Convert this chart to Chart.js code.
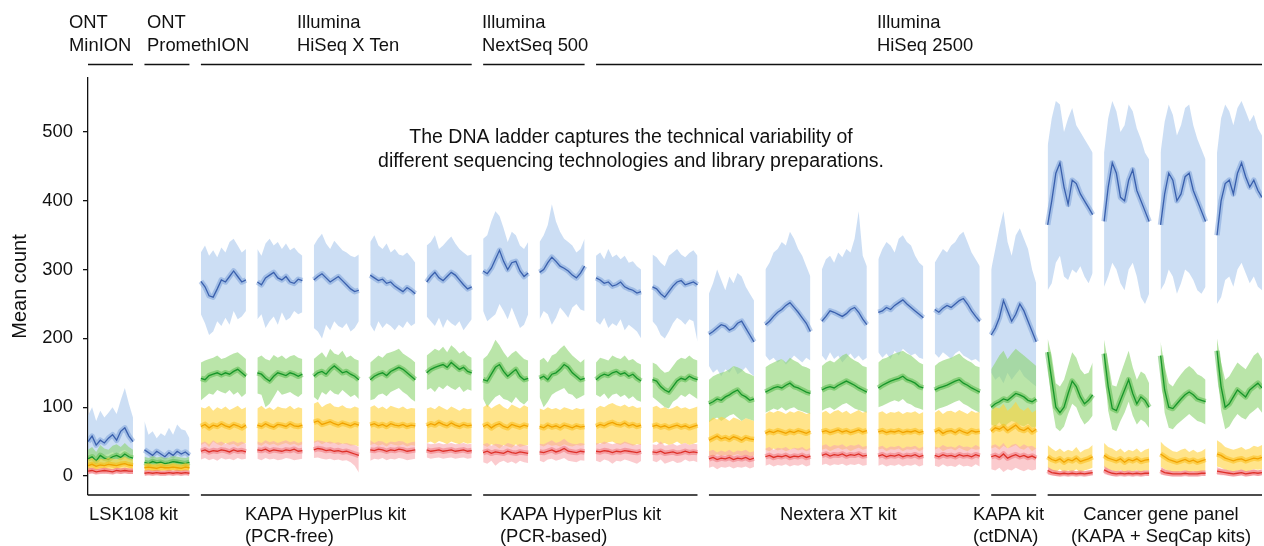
<!DOCTYPE html>
<html>
<head>
<meta charset="utf-8">
<script src="https://cdn.jsdelivr.net/npm/chart.js@4.4.1/dist/chart.umd.min.js"></script>
<style>
  html, body { margin: 0; padding: 0; background: #fff; }
  #wrap { width: 1264px; height: 546px; position: relative; }
</style>
</head>
<body>
<div id="wrap"><canvas id="ladderChart"></canvas></div>
<script>
// one sub-array per panel (21 panels, left to right), 12 readings across each panel
const blueMid = [
  [50, 58, 45, 52, 48, 55, 60, 52, 65, 70, 58, 50],
  [38, 34, 30, 36, 32, 28, 34, 30, 36, 32, 35, 30],
  [283, 275, 262, 260, 272, 285, 282, 290, 298, 290, 282, 285],
  [282, 278, 288, 292, 296, 288, 285, 290, 282, 280, 286, 284],
  [285, 290, 294, 288, 282, 286, 290, 284, 278, 272, 268, 270],
  [292, 288, 284, 286, 280, 282, 276, 272, 268, 274, 270, 265],
  [282, 290, 296, 288, 284, 290, 296, 292, 285, 278, 272, 275],
  [298, 294, 302, 315, 328, 312, 300, 310, 312, 298, 290, 295],
  [296, 300, 310, 318, 312, 305, 302, 298, 292, 288, 295, 305],
  [288, 285, 280, 282, 276, 278, 282, 275, 272, 270, 266, 268],
  [275, 272, 265, 260, 268, 276, 282, 284, 278, 280, 282, 278],
  [206, 210, 215, 220, 218, 212, 215, 222, 225, 215, 205, 195],
  [220, 225, 232, 238, 242, 248, 252, 245, 238, 230, 222, 210],
  [225, 232, 240, 238, 235, 232, 236, 242, 245, 238, 228, 220],
  [238, 240, 245, 242, 248, 252, 256, 250, 245, 240, 235, 230],
  [242, 238, 244, 248, 245, 250, 255, 258, 250, 240, 232, 225],
  [205, 215, 230, 255, 240, 225, 235, 250, 240, 225, 210, 195],
  [365, 400, 440, 455, 420, 395, 430, 425, 410, 400, 390, 380],
  [370, 420, 455, 440, 405, 400, 430, 445, 415, 400, 385, 370],
  [365, 410, 440, 430, 400, 410, 435, 440, 415, 400, 385, 370],
  [350, 400, 425, 430, 410, 440, 455, 435, 420, 430, 415, 405]
];
const blueHigh = [
  [88, 100, 80, 95, 85, 92, 100, 90, 110, 128, 105, 85],
  [80, 60, 65, 55, 62, 58, 70, 60, 75, 68, 66, 55],
  [325, 335, 320, 328, 318, 332, 325, 340, 345, 335, 325, 330],
  [330, 320, 338, 345, 335, 340, 330, 338, 328, 332, 325, 320],
  [335, 345, 352, 338, 330, 342, 335, 328, 325, 320, 318, 322],
  [340, 350, 335, 330, 338, 325, 330, 322, 320, 325, 318, 310],
  [335, 340, 350, 330, 335, 342, 348, 338, 330, 325, 320, 322],
  [345, 350, 370, 385, 378, 360, 340, 355, 350, 335, 330, 340],
  [340, 350, 365, 395, 370, 355, 345, 340, 335, 325, 330, 345],
  [320, 325, 315, 330, 318, 322, 315, 320, 310, 312, 305, 300],
  [322, 318, 310, 305, 320, 325, 330, 322, 318, 324, 328, 320],
  [265, 280, 300, 285, 270, 290, 280, 295, 290, 275, 265, 255],
  [300, 310, 325, 330, 340, 335, 355, 345, 330, 320, 305, 290],
  [300, 315, 320, 310, 325, 318, 330, 325, 345, 385, 320, 305],
  [315, 330, 340, 335, 325, 345, 350, 340, 335, 320, 310, 305],
  [310, 320, 330, 325, 335, 340, 350, 355, 340, 325, 315, 305],
  [300, 330, 360, 385, 340, 320, 350, 360, 345, 330, 300, 280],
  [480, 520, 545, 540, 500, 520, 535, 510, 500, 490, 480, 470],
  [470, 520, 545, 530, 500, 510, 540, 530, 505, 490, 470, 460],
  [470, 515, 540, 525, 495, 510, 535, 540, 510, 490, 475, 460],
  [470, 520, 540, 530, 510, 535, 545, 530, 515, 525, 505, 495]
];
const blueLow = [
  [30, 32, 28, 33, 30, 32, 35, 30, 36, 38, 33, 30],
  [22, 20, 21, 22, 20, 21, 22, 20, 21, 22, 20, 21],
  [235, 222, 205, 210, 225, 218, 230, 220, 240, 228, 232, 240],
  [228, 235, 215, 225, 232, 220, 238, 226, 230, 240, 235, 238],
  [215, 210, 200, 220, 212, 225, 218, 215, 222, 210, 215, 225],
  [220, 210, 225, 215, 222, 218, 212, 220, 215, 225, 218, 222],
  [232, 225, 218, 230, 215, 228, 222, 218, 225, 212, 220, 228],
  [240, 225, 230, 235, 250, 240, 228, 245, 230, 215, 220, 235],
  [228, 240, 235, 220, 230, 245, 238, 230, 245, 250, 242, 240],
  [225, 220, 230, 215, 222, 218, 228, 212, 220, 215, 210, 200],
  [225, 218, 205, 200, 210, 222, 230, 226, 220, 228, 225, 195],
  [160, 150, 155, 145, 155, 150, 160, 148, 152, 158, 150, 145],
  [175, 168, 172, 165, 170, 162, 168, 175, 170, 165, 172, 168],
  [175, 168, 180, 170, 175, 165, 172, 178, 170, 175, 168, 172],
  [180, 172, 178, 170, 182, 175, 185, 180, 175, 178, 172, 170],
  [178, 172, 180, 175, 170, 178, 182, 175, 172, 168, 170, 165],
  [150, 140, 145, 135, 150, 140, 148, 155, 145, 140, 135, 130],
  [270, 280, 310, 320, 290, 285, 300, 295, 305, 290, 280, 295],
  [275, 290, 310, 300, 280, 270, 300, 310, 290, 260, 250, 265],
  [270, 280, 300, 290, 265, 280, 300, 295, 285, 270, 265, 275],
  [250, 260, 285, 290, 275, 300, 310, 295, 280, 290, 275, 270]
];

const greenMid = [
  [25, 28, 22, 30, 26, 24, 28, 30, 27, 32, 28, 26],
  [20, 18, 21, 19, 20, 18, 19, 21, 20, 19, 18, 20],
  [142, 140, 146, 148, 150, 147, 150, 148, 152, 155, 150, 145],
  [150, 148, 142, 138, 145, 150, 148, 146, 150, 148, 145, 148],
  [145, 150, 152, 148, 155, 160, 155, 150, 152, 148, 145, 140],
  [140, 145, 148, 150, 146, 152, 155, 158, 155, 150, 145, 140],
  [150, 155, 158, 160, 162, 158, 165, 160, 155, 158, 152, 150],
  [140, 138, 148, 158, 162, 152, 145, 150, 155, 145, 140, 142],
  [142, 145, 140, 148, 150, 155, 162, 158, 150, 145, 140, 142],
  [140, 145, 148, 146, 150, 152, 148, 150, 145, 148, 142, 138],
  [140, 138, 130, 125, 122, 130, 138, 142, 140, 145, 142, 140],
  [105, 108, 112, 110, 115, 118, 122, 125, 118, 115, 110, 112],
  [122, 125, 128, 130, 128, 132, 135, 130, 128, 125, 122, 120],
  [125, 128, 130, 128, 132, 135, 138, 135, 132, 128, 125, 122],
  [128, 132, 135, 138, 140, 142, 145, 140, 138, 135, 130, 128],
  [125, 128, 130, 132, 135, 138, 140, 135, 132, 128, 125, 122],
  [100, 105, 108, 112, 110, 115, 120, 118, 115, 110, 108, 112],
  [180, 140, 100, 92, 100, 120, 138, 130, 115, 105, 110, 118],
  [178, 130, 98, 95, 110, 125, 140, 120, 105, 115, 110, 100],
  [175, 125, 100, 98, 105, 112, 118, 122, 118, 112, 110, 108],
  [182, 130, 100, 105, 115, 125, 120, 115, 125, 130, 135, 128]
];
const greenHigh = [
  [38, 42, 35, 45, 40, 38, 44, 46, 42, 48, 42, 38],
  [28, 26, 29, 27, 28, 26, 27, 29, 28, 27, 26, 28],
  [165, 168, 170, 172, 175, 170, 172, 175, 178, 180, 175, 170],
  [172, 175, 170, 168, 176, 172, 175, 170, 174, 176, 172, 170],
  [170, 175, 180, 172, 185, 178, 176, 182, 172, 175, 170, 168],
  [165, 170, 175, 172, 178, 180, 182, 185, 178, 174, 170, 165],
  [175, 180, 185, 182, 188, 180, 190, 185, 178, 182, 175, 172],
  [170, 175, 185, 198, 190, 180, 172, 178, 182, 176, 170, 168],
  [168, 172, 165, 175, 178, 185, 190, 182, 175, 170, 165, 170],
  [165, 172, 170, 168, 175, 172, 170, 175, 168, 170, 165, 162],
  [165, 162, 155, 150, 152, 160, 168, 172, 170, 175, 170, 168],
  [140, 145, 148, 150, 152, 155, 160, 158, 155, 150, 148, 145],
  [158, 162, 165, 168, 170, 165, 172, 168, 165, 160, 158, 155],
  [160, 165, 168, 165, 170, 175, 178, 172, 168, 165, 160, 158],
  [165, 170, 172, 175, 178, 180, 182, 178, 175, 170, 165, 162],
  [160, 165, 168, 170, 172, 175, 178, 172, 168, 165, 160, 158],
  [155, 165, 175, 182, 170, 178, 185, 180, 175, 170, 165, 160],
  [200, 175, 135, 130, 140, 160, 180, 172, 155, 148, 150, 165],
  [198, 165, 132, 130, 148, 165, 182, 158, 140, 152, 148, 135],
  [195, 160, 135, 130, 140, 148, 155, 160, 155, 148, 145, 140],
  [200, 165, 140, 145, 155, 165, 160, 155, 165, 175, 180, 170]
];
const greenLow = [
  [15, 16, 14, 17, 15, 16, 17, 16, 15, 18, 16, 15],
  [12, 11, 12, 11, 12, 11, 12, 11, 12, 11, 12, 11],
  [110, 115, 120, 118, 125, 122, 120, 125, 118, 122, 115, 120],
  [120, 118, 100, 105, 115, 125, 118, 120, 122, 118, 115, 120],
  [115, 110, 122, 118, 125, 120, 118, 125, 120, 115, 118, 112],
  [110, 112, 118, 120, 116, 122, 125, 128, 122, 118, 112, 108],
  [125, 128, 122, 130, 126, 132, 128, 125, 130, 122, 126, 124],
  [112, 100, 108, 115, 118, 112, 110, 106, 115, 108, 104, 110],
  [115, 100, 108, 118, 122, 125, 128, 120, 118, 112, 115, 118],
  [118, 115, 120, 112, 118, 120, 115, 118, 112, 116, 110, 108],
  [115, 110, 105, 100, 98, 108, 112, 118, 115, 120, 116, 112],
  [78, 82, 85, 80, 84, 88, 90, 85, 80, 84, 82, 80],
  [92, 95, 98, 96, 100, 95, 98, 100, 96, 94, 92, 90],
  [95, 98, 100, 96, 100, 104, 106, 102, 98, 96, 94, 92],
  [100, 102, 105, 108, 110, 108, 112, 106, 104, 100, 98, 96],
  [95, 98, 100, 102, 105, 108, 110, 105, 102, 98, 95, 92],
  [75, 72, 78, 70, 76, 80, 78, 74, 72, 76, 70, 72],
  [160, 105, 70, 65, 72, 90, 105, 100, 85, 75, 80, 88],
  [158, 95, 68, 65, 80, 92, 108, 88, 75, 82, 78, 70],
  [155, 92, 70, 68, 75, 80, 85, 90, 85, 80, 78, 75],
  [160, 95, 68, 72, 82, 90, 85, 82, 90, 95, 100, 92]
];

const yellowMid = [
  [15, 17, 14, 16, 15, 17, 16, 15, 17, 18, 16, 15],
  [12, 13, 12, 11, 13, 12, 12, 13, 12, 11, 13, 12],
  [72, 75, 70, 74, 72, 76, 73, 71, 75, 73, 70, 74],
  [74, 72, 76, 73, 71, 75, 74, 72, 76, 73, 72, 74],
  [78, 80, 75, 77, 79, 76, 74, 77, 75, 73, 76, 74],
  [74, 76, 73, 75, 72, 76, 74, 73, 75, 72, 74, 73],
  [73, 76, 74, 78, 75, 73, 77, 74, 72, 75, 73, 74],
  [72, 75, 70, 74, 76, 72, 70, 75, 73, 71, 74, 72],
  [72, 70, 74, 71, 73, 70, 74, 72, 70, 73, 71, 72],
  [72, 75, 73, 76, 78, 75, 74, 77, 73, 75, 72, 74],
  [72, 74, 71, 73, 70, 72, 74, 71, 73, 70, 72, 74],
  [52, 55, 58, 54, 56, 53, 57, 55, 52, 56, 54, 53],
  [62, 65, 63, 66, 64, 62, 65, 63, 66, 64, 62, 65],
  [64, 66, 63, 65, 67, 64, 66, 63, 65, 67, 64, 66],
  [64, 66, 63, 65, 64, 66, 63, 65, 64, 66, 63, 65],
  [64, 67, 62, 65, 66, 63, 67, 64, 62, 66, 64, 65],
  [65, 70, 68, 72, 66, 70, 74, 68, 66, 70, 64, 68],
  [28, 24, 22, 25, 20, 24, 22, 26, 21, 23, 25, 28],
  [30, 26, 24, 22, 25, 20, 24, 22, 25, 21, 23, 24],
  [32, 28, 24, 22, 20, 22, 24, 21, 23, 20, 22, 24],
  [32, 30, 26, 24, 22, 24, 25, 22, 24, 26, 25, 27]
];
const yellowHigh = [
  [24, 26, 22, 25, 24, 27, 25, 24, 26, 28, 25, 24],
  [18, 19, 17, 18, 19, 17, 18, 19, 18, 17, 19, 18],
  [100, 98, 102, 95, 100, 97, 101, 96, 99, 102, 97, 100],
  [98, 102, 97, 100, 96, 101, 99, 98, 102, 97, 100, 98],
  [105, 108, 100, 104, 106, 101, 100, 103, 99, 98, 101, 99],
  [100, 103, 98, 101, 97, 102, 100, 98, 101, 97, 99, 98],
  [98, 100, 97, 102, 99, 96, 101, 98, 95, 99, 97, 98],
  [100, 104, 98, 102, 105, 100, 97, 104, 101, 98, 103, 100],
  [98, 96, 100, 97, 99, 96, 100, 98, 96, 99, 97, 98],
  [98, 102, 100, 104, 106, 103, 101, 104, 100, 102, 99, 100],
  [100, 102, 98, 100, 97, 99, 102, 98, 100, 97, 99, 101],
  [80, 85, 82, 86, 84, 80, 85, 83, 80, 84, 82, 80],
  [90, 94, 92, 95, 93, 90, 94, 92, 95, 93, 90, 92],
  [92, 95, 90, 94, 96, 92, 95, 90, 93, 96, 92, 94],
  [92, 94, 90, 93, 92, 94, 90, 93, 92, 94, 90, 93],
  [92, 96, 90, 94, 95, 92, 96, 93, 90, 95, 92, 93],
  [95, 100, 98, 105, 95, 100, 108, 98, 95, 100, 92, 96],
  [45, 40, 36, 40, 35, 38, 36, 42, 34, 38, 40, 45],
  [48, 42, 40, 36, 40, 34, 38, 36, 40, 34, 38, 40],
  [50, 44, 40, 36, 35, 38, 40, 35, 38, 34, 36, 40],
  [52, 48, 42, 40, 38, 40, 42, 38, 40, 44, 42, 45]
];
const yellowLow = [
  [8, 9, 8, 10, 9, 8, 9, 10, 9, 8, 9, 9],
  [7, 8, 7, 8, 7, 8, 7, 8, 7, 8, 7, 8],
  [45, 48, 42, 50, 46, 44, 48, 45, 47, 43, 46, 48],
  [46, 44, 48, 45, 47, 44, 46, 48, 45, 47, 44, 46],
  [48, 50, 46, 49, 47, 48, 45, 47, 46, 44, 45, 43],
  [45, 47, 44, 46, 43, 47, 45, 44, 46, 43, 45, 44],
  [48, 50, 47, 51, 49, 46, 50, 48, 46, 49, 47, 48],
  [45, 42, 46, 44, 40, 45, 43, 41, 46, 42, 44, 45],
  [45, 43, 46, 44, 45, 43, 46, 44, 43, 45, 44, 45],
  [45, 48, 46, 49, 50, 47, 45, 48, 46, 44, 46, 45],
  [48, 50, 46, 48, 45, 47, 50, 46, 48, 45, 47, 49],
  [30, 28, 32, 29, 31, 28, 30, 32, 29, 31, 28, 30],
  [38, 36, 40, 37, 39, 36, 38, 40, 37, 39, 36, 38],
  [38, 40, 36, 39, 41, 38, 40, 36, 39, 41, 38, 40],
  [38, 40, 36, 39, 38, 40, 36, 39, 38, 40, 36, 39],
  [38, 41, 36, 39, 40, 37, 41, 38, 36, 40, 38, 39],
  [40, 42, 38, 44, 40, 42, 45, 40, 38, 42, 36, 40],
  [12, 8, 6, 10, 5, 8, 6, 10, 5, 8, 10, 12],
  [12, 10, 8, 6, 9, 5, 8, 6, 9, 5, 8, 8],
  [14, 10, 8, 6, 5, 7, 8, 5, 7, 4, 6, 8],
  [14, 12, 9, 8, 6, 8, 9, 6, 8, 10, 9, 10]
];

const redMid = [
  [7, 8, 6, 7, 8, 7, 6, 8, 7, 8, 7, 7],
  [4, 5, 4, 5, 4, 4, 5, 4, 5, 4, 5, 4],
  [36, 38, 35, 37, 36, 38, 37, 35, 38, 36, 37, 35],
  [38, 37, 39, 36, 38, 37, 36, 38, 37, 39, 36, 37],
  [38, 40, 39, 37, 38, 36, 37, 35, 36, 34, 32, 30],
  [38, 37, 39, 38, 36, 38, 37, 39, 38, 36, 37, 38],
  [38, 36, 37, 38, 36, 37, 38, 36, 37, 38, 36, 37],
  [34, 36, 33, 35, 34, 33, 36, 34, 33, 35, 34, 33],
  [35, 34, 36, 38, 35, 37, 40, 36, 35, 34, 36, 35],
  [36, 35, 37, 36, 34, 36, 35, 37, 36, 35, 34, 36],
  [35, 34, 36, 33, 34, 35, 33, 34, 36, 34, 35, 34],
  [25, 27, 24, 26, 25, 27, 24, 26, 25, 27, 24, 26],
  [28, 30, 27, 29, 28, 30, 27, 29, 28, 30, 27, 29],
  [30, 32, 29, 31, 30, 32, 29, 31, 30, 32, 29, 30],
  [29, 31, 28, 30, 29, 31, 28, 30, 29, 31, 28, 30],
  [30, 28, 31, 29, 30, 28, 31, 29, 30, 28, 31, 29],
  [28, 30, 27, 32, 26, 29, 31, 28, 30, 27, 29, 26],
  [8, 5, 4, 3, 4, 3, 4, 3, 4, 3, 4, 5],
  [9, 6, 4, 3, 4, 3, 4, 3, 4, 3, 4, 4],
  [8, 5, 4, 3, 3, 3, 4, 3, 3, 3, 4, 4],
  [7, 6, 5, 4, 3, 4, 5, 3, 4, 5, 4, 5]
];
const redHigh = [
  [11, 12, 10, 11, 12, 11, 10, 12, 11, 12, 11, 11],
  [7, 8, 7, 8, 7, 7, 8, 7, 8, 7, 8, 7],
  [48, 50, 46, 52, 48, 50, 47, 49, 51, 48, 50, 47],
  [50, 48, 52, 49, 51, 48, 50, 52, 49, 51, 48, 50],
  [50, 52, 51, 49, 50, 48, 49, 47, 48, 46, 45, 42],
  [52, 48, 51, 50, 47, 50, 49, 51, 50, 47, 49, 50],
  [48, 46, 47, 48, 46, 47, 48, 46, 47, 48, 46, 47],
  [46, 48, 44, 47, 46, 44, 48, 46, 44, 47, 45, 44],
  [47, 46, 49, 52, 48, 50, 54, 49, 47, 46, 48, 47],
  [48, 47, 50, 48, 46, 48, 47, 50, 48, 46, 45, 47],
  [46, 45, 50, 44, 45, 47, 44, 46, 48, 45, 47, 46],
  [36, 38, 34, 37, 35, 38, 34, 37, 36, 38, 34, 36],
  [40, 42, 38, 41, 40, 42, 38, 41, 40, 42, 38, 41],
  [44, 46, 42, 45, 44, 46, 42, 45, 44, 46, 42, 44],
  [42, 44, 40, 43, 42, 44, 40, 43, 42, 44, 40, 43],
  [43, 41, 45, 42, 43, 41, 45, 42, 43, 41, 45, 42],
  [44, 46, 42, 48, 40, 45, 47, 42, 46, 43, 44, 40],
  [14, 10, 8, 7, 8, 7, 8, 7, 8, 7, 8, 9],
  [15, 11, 8, 7, 8, 7, 8, 7, 8, 7, 8, 8],
  [14, 10, 8, 7, 7, 7, 8, 7, 7, 7, 8, 8],
  [13, 11, 10, 8, 7, 8, 10, 7, 8, 10, 8, 10]
];
const redLow = [
  [3, 4, 3, 4, 3, 4, 3, 4, 3, 4, 3, 3],
  [1, 2, 1, 2, 1, 1, 2, 1, 2, 1, 2, 1],
  [24, 26, 23, 25, 22, 26, 24, 25, 23, 26, 24, 25],
  [25, 23, 26, 24, 25, 23, 24, 26, 25, 23, 24, 25],
  [26, 27, 25, 24, 25, 23, 24, 22, 23, 20, 15, 5],
  [22, 25, 24, 26, 23, 25, 24, 26, 25, 23, 24, 25],
  [27, 25, 26, 27, 25, 26, 27, 25, 26, 27, 25, 26],
  [20, 18, 22, 15, 20, 22, 19, 21, 18, 22, 20, 19],
  [22, 20, 24, 25, 22, 24, 26, 22, 21, 20, 23, 22],
  [22, 20, 24, 22, 18, 22, 21, 24, 22, 20, 18, 22],
  [22, 20, 24, 18, 20, 22, 19, 20, 24, 21, 22, 20],
  [12, 14, 10, 13, 12, 14, 11, 13, 12, 14, 11, 13],
  [15, 17, 14, 16, 15, 17, 14, 16, 15, 17, 14, 16],
  [16, 18, 15, 17, 16, 18, 15, 17, 16, 18, 15, 16],
  [15, 17, 14, 16, 15, 17, 14, 16, 15, 17, 14, 16],
  [15, 13, 17, 14, 15, 13, 17, 14, 15, 13, 17, 14],
  [10, 8, 12, 6, 10, 8, 12, 9, 7, 10, 8, 10],
  [2, 1, 0, 0, 1, 0, 1, 0, 1, 0, 1, 1],
  [3, 1, 0, 0, 1, 0, 1, 0, 1, 0, 1, 0],
  [2, 1, 0, 0, 0, 0, 1, 0, 0, 0, 1, 0],
  [2, 1, 1, 0, 0, 0, 1, 0, 0, 1, 0, 1]
];

const yTicks = [0, 100, 200, 300, 400, 500];
const platformLabels = [['ONT', 'MinION'], ['ONT', 'PromethION'], ['Illumina', 'HiSeq X Ten'], ['Illumina', 'NextSeq 500'], ['Illumina', 'HiSeq 2500']];
const platformPanels = [[0, 0], [1, 1], [2, 6], [7, 8], [9, 20]];
const kitLabels = [['LSK108 kit'], ['KAPA HyperPlus kit', '(PCR-free)'], ['KAPA HyperPlus kit', '(PCR-based)'], ['Nextera XT kit'], ['KAPA kit', '(ctDNA)'], ['Cancer gene panel', '(KAPA + SeqCap kits)']];
const kitPanels = [[0, 1], [2, 6], [7, 10], [11, 15], [16, 16], [17, 20]];
const noteLines = ['The DNA ladder captures the technical variability of', 'different sequencing technologies and library preparations.'];

// layout
const panelSpan = 0.797;
const fontFamily = '"Liberation Sans", Arial, Helvetica, sans-serif';
const labelSize = 18.4;
const platformTextX = [69, 147, 297, 482, 877];
const kitTextX = [89, 245, 500, 780, 973, 1161];
const kitTextAlign = ['left', 'left', 'left', 'left', 'left', 'center'];

function toPoints(panels) {
    const pts = [];
    panels.forEach((vals, p) => {
        vals.forEach((v, k) => {
            pts.push({x: p + k * panelSpan / (vals.length - 1), y: v});
        });
        pts.push({x: p + panelSpan + 0.05, y: null});
    });
    return pts;
}

const traces = [
    {mid: redMid, low: redLow, high: redHigh, line: '#de3129', core: 'rgba(238,100,106,0.45)', band: 'rgba(248,168,174,0.6)'},
    {mid: yellowMid, low: yellowLow, high: yellowHigh, line: '#f0a200', core: 'rgba(250,182,0,0.45)', band: 'rgba(255,210,60,0.6)'},
    {mid: greenMid, low: greenLow, high: greenHigh, line: '#17962a', core: 'rgba(70,180,60,0.45)', band: 'rgba(140,212,112,0.6)'},
    {mid: blueMid, low: blueLow, high: blueHigh, line: '#3a60ad', core: 'rgba(110,150,212,0.45)', band: 'rgba(172,202,238,0.62)'},
];

const datasets = [];
traces.forEach((t, rank) => {
    const highIndex = datasets.length;
    datasets.push({
        data: toPoints(t.high), borderColor: 'rgba(0,0,0,0)', borderWidth: 0,
        pointRadius: 0, fill: false, order: rank * 4 + 3, spanGaps: false
    });
    datasets.push({
        data: toPoints(t.low), borderColor: 'rgba(0,0,0,0)', borderWidth: 0,
        pointRadius: 0, fill: {target: highIndex}, backgroundColor: t.band,
        order: rank * 4 + 2, spanGaps: false
    });
    // wide soft stroke along the mean: the darker core of the replicate cloud
    datasets.push({
        data: toPoints(t.mid), borderColor: t.core, borderWidth: 5.5, borderJoinStyle: 'round',
        pointRadius: 0, fill: false, order: rank * 4 + 1, spanGaps: false
    });
    datasets.push({
        data: toPoints(t.mid), borderColor: t.line, borderWidth: 1.3,
        pointRadius: 0, fill: false, order: rank * 4, spanGaps: false
    });
});

const decorations = {
    id: 'decorations',
    afterDraw(chart) {
        const {ctx, scales: {x}} = chart;
        ctx.save();
        ctx.strokeStyle = '#111';
        ctx.fillStyle = '#111';
        ctx.lineWidth = 1.3;
        ctx.font = labelSize + 'px ' + fontFamily;
        ctx.textBaseline = 'alphabetic';

        const bracket = (from, to, y) => {
            ctx.beginPath();
            ctx.moveTo(x.getPixelForValue(from), y);
            ctx.lineTo(x.getPixelForValue(to + panelSpan), y);
            ctx.stroke();
        };

        platformPanels.forEach(([a, b], i) => {
            bracket(a, b, 64.5);
            ctx.textAlign = 'left';
            platformLabels[i].forEach((line, j) => ctx.fillText(line, platformTextX[i], 28 + j * 23));
        });

        kitPanels.forEach(([a, b], i) => {
            bracket(a, b, 495);
            ctx.textAlign = kitTextAlign[i];
            kitLabels[i].forEach((line, j) => ctx.fillText(line, kitTextX[i], 520 + j * 21.5));
        });

        ctx.font = '19.5px ' + fontFamily;
        ctx.textAlign = 'center';
        noteLines.forEach((line, j) => ctx.fillText(line, 631, 143 + j * 23.5));
        ctx.restore();
    }
};

new Chart(document.getElementById('ladderChart'), {
    type: 'line',
    data: {datasets: datasets},
    options: {
        responsive: true,
        maintainAspectRatio: false,
        animation: false,
        devicePixelRatio: 1,
        layout: {
            padding: {left: 0, right: 2, top: 78, bottom: 51}
        },
        plugins: {
            legend: {display: false},
            tooltip: {enabled: false},
        },
        elements: {
            line: {tension: 0}
        },
        scales: {
            x: {
                type: 'linear',
                min: 0,
                max: 20 + panelSpan,
                display: false,
            },
            y: {
                min: -27.6,
                max: 578.5,
                afterBuildTicks: axis => {
                    axis.ticks = yTicks.map(v => ({value: v}));
                },
                afterFit: axis => {
                    axis.width = 88;
                },
                border: {display: true, color: '#111', width: 1.3},
                grid: {
                    display: true, drawOnChartArea: false, drawTicks: true,
                    tickLength: 5, color: '#111', tickColor: '#111', lineWidth: 1.3
                },
                ticks: {
                    color: '#111', padding: 10,
                    font: {size: labelSize, family: fontFamily}
                },
                title: {
                    display: true, text: 'Mean count', color: '#111',
                    font: {size: 20, family: fontFamily},
                    padding: {top: 8, bottom: 0}
                }
            }
        }
    },
    plugins: [decorations]
});
</script>
</body>
</html>
